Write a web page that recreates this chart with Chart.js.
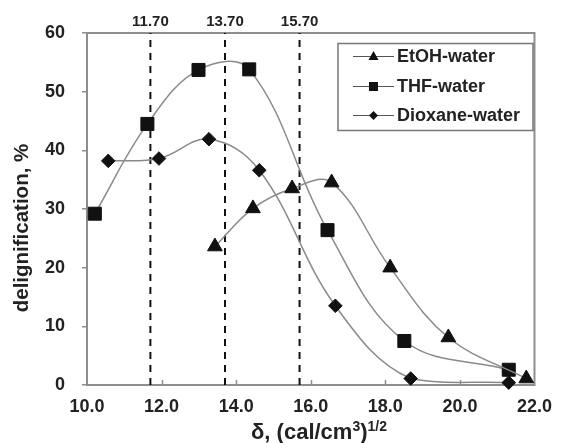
<!DOCTYPE html>
<html><head><meta charset="utf-8">
<script src="https://cdn.jsdelivr.net/npm/chart.js@4.4.1/dist/chart.umd.min.js"></script>
<style>html,body{margin:0;padding:0;background:#fff;} canvas{display:block;}</style>
</head><body>
<canvas id="c" width="563" height="443"></canvas>
<script>
// ---- data ----
const seriesNames = ['EtOH-water', 'THF-water', 'Dioxane-water'];
const etohX = [13.43, 14.45, 15.50, 16.56, 18.13, 19.69, 21.78];
const etohY = [23.6, 30.1, 33.5, 34.5, 20.0, 8.1, 1.1];
const thfX  = [10.21, 11.62, 12.99, 14.35, 16.45, 18.51, 21.31];
const thfY  = [29.2, 44.5, 53.7, 53.8, 26.4, 7.5, 2.6];
const dioxX = [10.57, 11.93, 13.27, 14.62, 16.66, 18.68, 21.31];
const dioxY = [38.2, 38.6, 41.9, 36.6, 13.5, 1.1, 0.4];
const refLines = [11.7, 13.7, 15.7];
const xTicks = [10, 12, 14, 16, 18, 20, 22];
const yTicks = [0, 10, 20, 30, 40, 50, 60];
const yTitle = 'delignification, %';
const xTitleParts = [['δ, (cal/cm', false], ['3', true], [')', false], ['1/2', true]];

const FONT = "'Liberation Sans', Arial, sans-serif";
const TXT = '#222';
const FRAME = '#8e8e8e';

const pts = (xs, ys) => xs.map((x, i) => ({x: x, y: ys[i]}));

const seriesStyles = [
  {style: 'triangle', r: 8.5},
  {style: 'rect', r: 9.2},
  {style: 'rectRot', r: 6.8}
];
const seriesData = [pts(etohX, etohY), pts(thfX, thfY), pts(dioxX, dioxY)];

const datasets = seriesNames.map((n, i) => ({
  label: n,
  data: seriesData[i],
  showLine: true,
  tension: 0.38,
  borderColor: '#8a8a8a',
  borderWidth: 1.5,
  pointStyle: seriesStyles[i].style,
  pointRadius: seriesStyles[i].r,
  pointHoverRadius: seriesStyles[i].r,
  pointBackgroundColor: '#111',
  pointBorderColor: '#111',
  pointBorderWidth: 1,
  order: 0,
  clip: false
}));
refLines.forEach(v => datasets.push({
  label: 'ref ' + v,
  data: [{x: v, y: yTicks[0]}, {x: v, y: yTicks[yTicks.length - 1]}],
  showLine: true,
  borderColor: '#111',
  borderWidth: 2,
  borderDash: [7, 6],
  pointRadius: 0,
  order: 5
}));

const framePlugin = {
  id: 'frame',
  beforeDatasetsDraw(chart) {
    const a = chart.chartArea, ctx = chart.ctx;
    ctx.save();
    ctx.strokeStyle = FRAME;
    ctx.lineWidth = 2;
    ctx.strokeRect(a.left, a.top, a.right - a.left, a.bottom - a.top);
    const xs = chart.scales.x;
    ctx.lineWidth = 1.5;
    xTicks.slice(1, -1).forEach(v => {
      const px = Math.round(xs.getPixelForValue(v)) + 0.5;
      ctx.beginPath(); ctx.moveTo(px, a.bottom); ctx.lineTo(px, a.bottom - 5); ctx.stroke();
    });
    ctx.restore();
  },
  afterDraw(chart) {
    const ctx = chart.ctx, a = chart.chartArea;
    ctx.save();
    ctx.fillStyle = TXT;
    // y axis title
    ctx.save();
    ctx.translate(22, 228);
    ctx.rotate(-Math.PI / 2);
    ctx.font = 'bold 20.5px ' + FONT;
    ctx.textAlign = 'center';
    ctx.textBaseline = 'middle';
    ctx.fillText(yTitle, 0, 0);
    ctx.restore();
    // x axis title with superscripts
    const big = 'bold 22px ' + FONT, small = 'bold 14px ' + FONT;
    let w = 0;
    xTitleParts.forEach(p => { ctx.font = p[1] ? small : big; w += ctx.measureText(p[0]).width; });
    let x = 319 - w / 2;
    const base = 439;
    ctx.textBaseline = 'alphabetic';
    ctx.textAlign = 'left';
    xTitleParts.forEach(p => {
      ctx.font = p[1] ? small : big;
      ctx.fillText(p[0], x, p[1] ? base - 8 : base);
      x += ctx.measureText(p[0]).width;
    });
    // legend
    const L = 338, T = 43.5, R = 533, B = 130.5;
    ctx.fillStyle = '#fff';
    ctx.fillRect(L, T, R - L, B - T);
    ctx.strokeStyle = '#777';
    ctx.lineWidth = 1.5;
    ctx.strokeRect(L, T, R - L, B - T);
    const rows = [56.5, 86.5, 115.5];
    seriesNames.forEach((n, i) => {
      const y = rows[i];
      ctx.strokeStyle = '#555';
      ctx.lineWidth = 1.2;
      ctx.beginPath(); ctx.moveTo(353, y); ctx.lineTo(394, y); ctx.stroke();
      ctx.fillStyle = '#111';
      const cx = 373.5;
      ctx.beginPath();
      if (seriesStyles[i].style === 'triangle') {
        ctx.moveTo(cx, y - 5.5); ctx.lineTo(cx + 5, y + 3.5); ctx.lineTo(cx - 5, y + 3.5);
      } else if (seriesStyles[i].style === 'rect') {
        ctx.rect(cx - 4.5, y - 4.5, 9, 9);
      } else {
        ctx.moveTo(cx, y - 4.5); ctx.lineTo(cx + 4.5, y); ctx.lineTo(cx, y + 4.5); ctx.lineTo(cx - 4.5, y);
      }
      ctx.closePath(); ctx.fill();
      ctx.fillStyle = TXT;
      ctx.font = 'bold 18px ' + FONT;
      ctx.textBaseline = 'middle';
      ctx.fillText(n, 397, y + 1);
    });
    ctx.restore();
  }
};

new Chart(document.getElementById('c'), {
  type: 'scatter',
  data: {datasets: datasets},
  plugins: [framePlugin],
  options: {
    responsive: false,
    animation: false,
    devicePixelRatio: 1,
    layout: {padding: {left: 0, right: 18, top: 0, bottom: 0}},
    plugins: {legend: {display: false}, tooltip: {enabled: false}},
    scales: {
      x: {
        type: 'linear', position: 'bottom',
        min: xTicks[0], max: xTicks[xTicks.length - 1],
        afterBuildTicks: s => { s.ticks = xTicks.map(v => ({value: v})); },
        ticks: {callback: v => Number(v).toFixed(1), color: TXT, font: {family: FONT, size: 18, weight: 'bold'}, padding: 11, maxRotation: 0, autoSkip: false},
        grid: {display: true, drawOnChartArea: false, drawTicks: false},
        border: {display: false},
        afterFit: s => { s.height = 58; }
      },
      x2: {
        type: 'linear', position: 'top',
        min: xTicks[0], max: xTicks[xTicks.length - 1],
        afterBuildTicks: s => { s.ticks = refLines.map(v => ({value: v})); },
        ticks: {callback: v => Number(v).toFixed(2), color: TXT, font: {family: FONT, size: 15, weight: 'bold'}, padding: 2, maxRotation: 0, autoSkip: false},
        grid: {display: true, drawOnChartArea: false, drawTicks: false},
        border: {display: false},
        afterFit: s => { s.height = 33; }
      },
      y: {
        type: 'linear', position: 'left',
        min: yTicks[0], max: yTicks[yTicks.length - 1],
        afterBuildTicks: s => { s.ticks = yTicks.map(v => ({value: v})); },
        ticks: {color: TXT, font: {family: FONT, size: 18, weight: 'bold'}, padding: 17},
        grid: {display: true, drawOnChartArea: false, drawTicks: true, tickLength: 5, color: FRAME, lineWidth: 1.5},
        border: {display: false},
        title: {display: false},
        afterFit: s => { s.width = 87; }
      }
    }
  }
});
</script>
</body></html>
